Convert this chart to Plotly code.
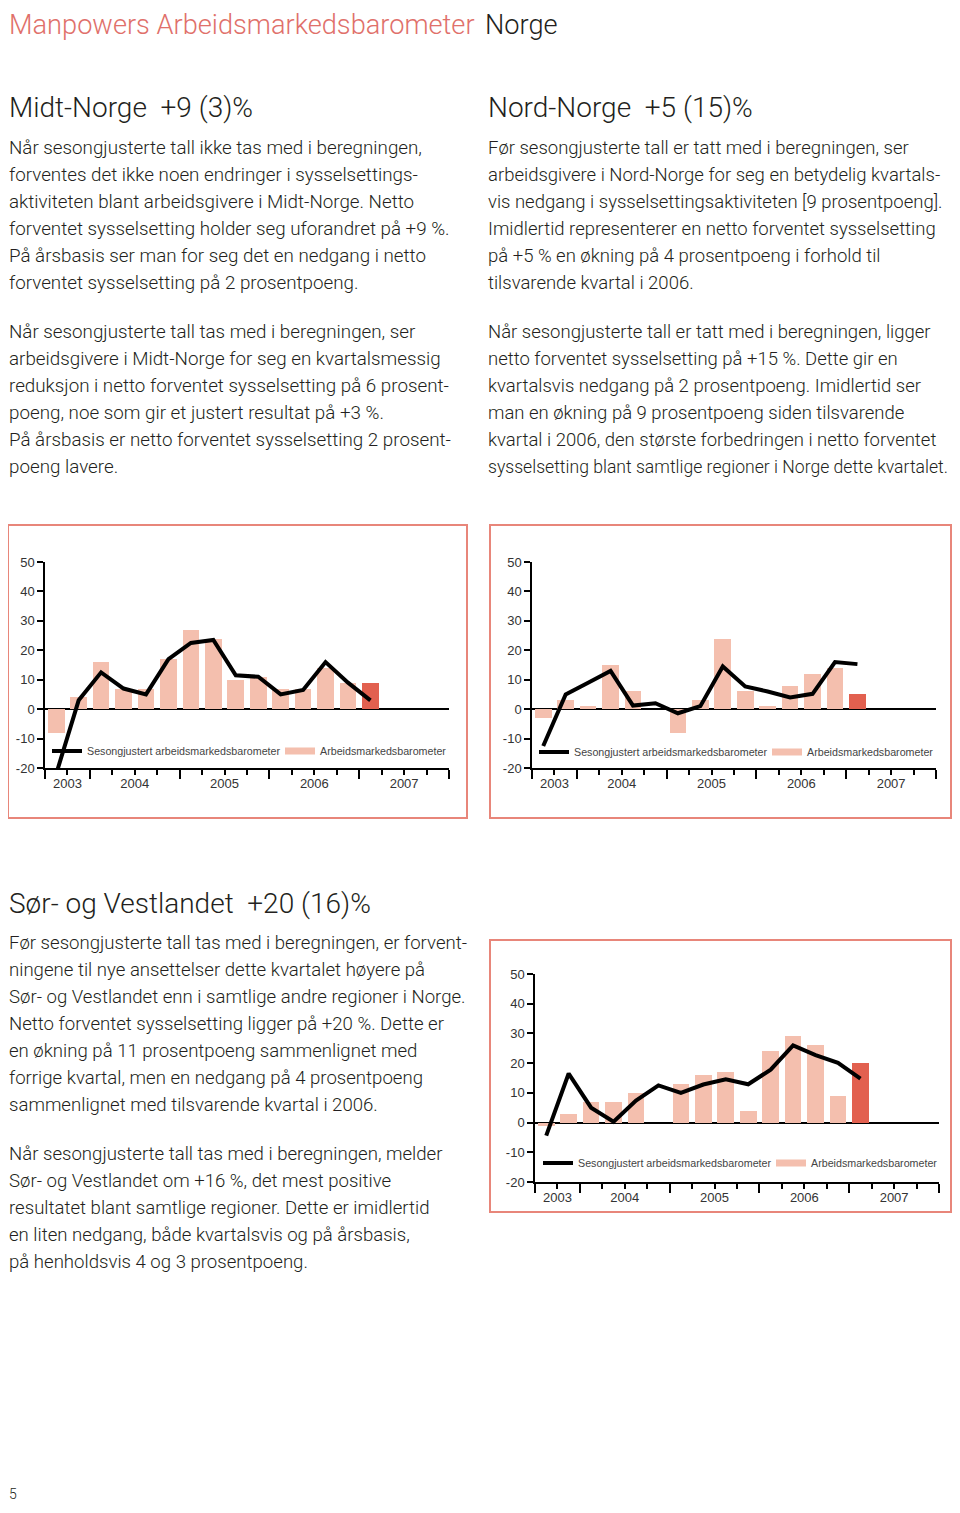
import plotly.graph_objects as go

W, H = 944, 1497   # figure size; the html page adds an 8 px body margin around it
OFF = 8

# ---------------- data ----------------
quarters = ["2003K3", "2003K4",
            "2004K1", "2004K2", "2004K3", "2004K4",
            "2005K1", "2005K2", "2005K3", "2005K4",
            "2006K1", "2006K2", "2006K3", "2006K4",
            "2007K1"]
years = ["2003", "2004", "2005", "2006", "2007"]

midt_bars = [-8, 4, 16, 7, 7, 17, 27, 24, 10, 11, 7, 7, 14, 9, 9]
midt_line = [-22, 3, 12.5, 7, 5, 17, 22.5, 23.5, 11.5, 11, 5, 6.5, 16, 9, 3]

nord_bars = [-3, 3, 1, 15, 6, 0, -8, 3, 24, 6, 1, 8, 12, 14, 5]
nord_line = [-12.5, 5, 9, 13, 1.2, 2, -1.4, 1, 14.5, 7.7, 6, 4, 5.2, 16, 15.3]

sor_bars = [-1, 3, 7, 7, 10, 0, 13, 16, 17, 4, 24, 29, 26, 9, 20]
sor_line = [-4.4, 16.5, 5, 0.3, 7.4, 12.5, 10, 12.8, 14.6, 12.9, 17.8, 26, 22.7, 20.1, 14.8]

y_ticks = [-20, -10, 0, 10, 20, 30, 40, 50]
y_ticktext = ["-20", "-10", "0", "10", "20", "30", "40", "50"]

name_line = "Sesongjustert arbeidsmarkedsbarometer"
name_bar = "Arbeidsmarkedsbarometer"

title_red = "Manpowers Arbeidsmarkedsbarometer"
title_black = "Norge"

head_midt = "Midt-Norge\u00a0 +9 (3)%"
head_nord = "Nord-Norge\u00a0 +5 (15)%"
head_sor = "Sør- og Vestlandet\u00a0 +20 (16)%"

midt_p1 = ["Når sesongjusterte tall ikke tas med i beregningen,",
           "forventes det ikke noen endringer i sysselsettings-",
           "aktiviteten blant arbeidsgivere i Midt-Norge. Netto",
           "forventet sysselsetting holder seg uforandret på +9 %.",
           "På årsbasis ser man for seg det en nedgang i netto",
           "forventet sysselsetting på 2 prosentpoeng."]
midt_p2 = ["Når sesongjusterte tall tas med i beregningen, ser",
           "arbeidsgivere i Midt-Norge for seg en kvartalsmessig",
           "reduksjon i netto forventet sysselsetting på 6 prosent-",
           "poeng, noe som gir et justert resultat på +3 %.",
           "På årsbasis er netto forventet sysselsetting 2 prosent-",
           "poeng lavere."]
nord_p1 = ["Før sesongjusterte tall er tatt med i beregningen, ser",
           "arbeidsgivere i Nord-Norge for seg en betydelig kvartals-",
           "vis nedgang i sysselsettingsaktiviteten [9 prosentpoeng].",
           "Imidlertid representerer en netto forventet sysselsetting",
           "på +5 % en økning på 4 prosentpoeng i forhold til",
           "tilsvarende kvartal i 2006."]
nord_p2 = ["Når sesongjusterte tall er tatt med i beregningen, ligger",
           "netto forventet sysselsetting på +15 %. Dette gir en",
           "kvartalsvis nedgang på 2 prosentpoeng. Imidlertid ser",
           "man en økning på 9 prosentpoeng siden tilsvarende",
           "kvartal i 2006, den største forbedringen i netto forventet",
           "sysselsetting blant samtlige regioner i Norge dette kvartalet."]
sor_p1 = ["Før sesongjusterte tall tas med i beregningen, er forvent-",
          "ningene til nye ansettelser dette kvartalet høyere på",
          "Sør- og Vestlandet enn i samtlige andre regioner i Norge.",
          "Netto forventet sysselsetting ligger på +20 %. Dette er",
          "en økning på 11 prosentpoeng sammenlignet med",
          "forrige kvartal, men en nedgang på 4 prosentpoeng",
          "sammenlignet med tilsvarende kvartal i 2006."]
sor_p2 = ["Når sesongjusterte tall tas med i beregningen, melder",
          "Sør- og Vestlandet om +16 %, det mest positive",
          "resultatet blant samtlige regioner. Dette er imidlertid",
          "en liten nedgang, både kvartalsvis og på årsbasis,",
          "på henholdsvis 4 og 3 prosentpoeng."]
page_no = "5"

# ---------------- style ----------------
FONT = "Roboto"
TXT = "#231f20"
RED_T = "#e0706a"
BAR_L = "#f4bfae"
BAR_R = "#e2604f"
FRAME = "#e8867a"
LINE_H = 27
TICKFONT = dict(size=13, color="#333333", family="Liberation Sans")


def qx(q):
    return int(q[:4]) + (int(q[-1]) - 0.5) / 4


xs = [qx(q) for q in quarters]
x_start = qx(quarters[0]) - 0.125
x_end = int(years[-1]) + 1
year_bounds = [x_start] + [int(y) + 1 for y in years]
quarter_bounds = [x_start + 0.25 * i for i in range(int(round((x_end - x_start) / 0.25)) + 1)]
minor_vals = [v for v in quarter_bounds if v not in year_bounds]
year_centers = [(max(int(y), x_start) + int(y) + 1) / 2 for y in years]


def px(v):
    return min(max(v - OFF, 0), W - 1) / W


def py(v):
    return 1 - min(max(v - OFF, 0), H) / H


charts = [
    dict(bars=midt_bars, line=midt_line, xd=(45, 449), yd=(562, 768),
         frame=(3, 525, 467, 818), leg=(47, 751)),
    dict(bars=nord_bars, line=nord_line, xd=(532, 936), yd=(562, 768),
         frame=(490, 525, 955, 818), leg=(534, 752)),
    dict(bars=sor_bars, line=sor_line, xd=(535, 939), yd=(974, 1182),
         frame=(490, 940, 955, 1212), leg=(538, 1163)),
]

fig = go.Figure()
layout = {}
shapes = []

for i, c in enumerate(charts):
    xa = "x" if i == 0 else f"x{2 * i + 1}"
    xl = f"x{2 * i + 2}"
    ya = "y" if i == 0 else f"y{i + 1}"
    leg = "legend" if i == 0 else f"legend{i + 1}"
    colors = [BAR_L] * (len(c["bars"]) - 1) + [BAR_R]
    fig.add_trace(go.Bar(x=xs, y=c["bars"], width=0.185, marker=dict(color=colors, line=dict(width=0)),
                         name=name_bar, showlegend=False, xaxis=xa, yaxis=ya, hoverinfo="skip"))
    fig.add_trace(go.Scatter(x=xs, y=c["line"], mode="lines", line=dict(color="black", width=4),
                             name=name_line, xaxis=xa, yaxis=ya, legend=leg))
    fig.add_trace(go.Scatter(x=[None], y=[None], mode="lines", line=dict(color=BAR_L, width=7),
                             name=name_bar, xaxis=xa, yaxis=ya, legend=leg))
    fig.add_trace(go.Scatter(x=[None], y=[None], mode="lines", showlegend=False,
                             xaxis=xl, yaxis=ya, hoverinfo="skip"))

    xdom = [px(c["xd"][0]), px(c["xd"][1])]
    ydom = [py(c["yd"][1]), py(c["yd"][0])]
    xkey = "xaxis" if i == 0 else f"xaxis{2 * i + 1}"
    xlkey = f"xaxis{2 * i + 2}"
    ykey = "yaxis" if i == 0 else f"yaxis{i + 1}"
    layout[xkey] = dict(domain=xdom, anchor=ya, range=[x_start, x_end], showline=True,
                        linecolor="black", linewidth=1.5, showgrid=False, zeroline=False,
                        tickmode="array", tickvals=year_bounds, ticks="outside", ticklen=9,
                        tickwidth=1.5, tickcolor="black", showticklabels=False,
                        minor=dict(tickmode="array", tickvals=minor_vals, ticks="outside",
                                   ticklen=5, tickwidth=1.5, tickcolor="black", showgrid=False))
    layout[xlkey] = dict(overlaying=xa, anchor=ya, side="bottom", range=[x_start, x_end],
                         showline=False, showgrid=False, zeroline=False, tickmode="array",
                         tickvals=year_centers, ticktext=years, ticks="outside", ticklen=3,
                         tickcolor="rgba(0,0,0,0)", tickfont=TICKFONT)
    layout[ykey] = dict(domain=ydom, anchor=xa, range=[-20, 50], tickmode="array", tickvals=y_ticks,
                        ticktext=y_ticktext, ticks="outside", ticklen=6, tickwidth=1.5,
                        tickcolor="black", showline=True, linecolor="black", linewidth=1.5,
                        showgrid=False, zeroline=True, zerolinecolor="black", zerolinewidth=1.5,
                        tickfont=TICKFONT)
    layout[leg] = dict(orientation="h", x=px(c["leg"][0]), y=py(c["leg"][1]), xanchor="left",
                       yanchor="middle", bgcolor="rgba(0,0,0,0)", borderwidth=0,
                       font=dict(size=10.7, color="#444444", family="Liberation Sans"),
                       entrywidth=188, entrywidthmode="pixels", traceorder="normal")
    f = c["frame"]
    shapes.append(dict(type="rect", xref="paper", yref="paper", x0=px(f[0]), x1=px(f[2]),
                       y0=py(f[3]), y1=py(f[1]), line=dict(color=FRAME, width=2),
                       fillcolor="rgba(0,0,0,0)", layer="below"))

annotations = []


def add_text(text, x, y, size, color=TXT, weight=300, yanchor="middle"):
    annotations.append(dict(text=text, x=px(x), y=py(y), xref="paper", yref="paper",
                            xanchor="left", yanchor=yanchor, showarrow=False, borderpad=0,
                            font=dict(family=FONT, size=size, color=color, weight=weight)))


def add_para(lines, x, y0, size, last_size=None):
    for k, t in enumerate(lines):
        s = last_size if (last_size and k == len(lines) - 1) else size
        add_text(t, x, y0 + k * LINE_H, s)


add_text(title_red, 0, OFF, 27.2, RED_T, yanchor="top")
add_text(title_black, 484, OFF, 27.2, TXT, yanchor="top")
add_text(head_midt, 0, 108, 28)
add_text(head_nord, 487, 108, 28)
add_text(head_sor, 2, 903, 28)
add_para(midt_p1, 0, 148, 18.8)
add_para(midt_p2, 0, 332, 18.8)
add_para(nord_p1, 487, 148, 18.5)
add_para(nord_p2, 487, 332, 18.5, last_size=17.6)
add_para(sor_p1, 2, 943, 18.6)
add_para(sor_p2, 2, 1154, 18.6)
add_text(page_no, 2, 1494, 14)

fig.update_layout(width=W, height=H,
                  margin=dict(l=0, r=0, t=0, b=0, pad=0, autoexpand=False),
                  paper_bgcolor="white", plot_bgcolor="rgba(0,0,0,0)",
                  font=dict(family=FONT, color=TXT), bargap=0,
                  shapes=shapes, annotations=annotations, **layout)

fig.write_html("out.html")
